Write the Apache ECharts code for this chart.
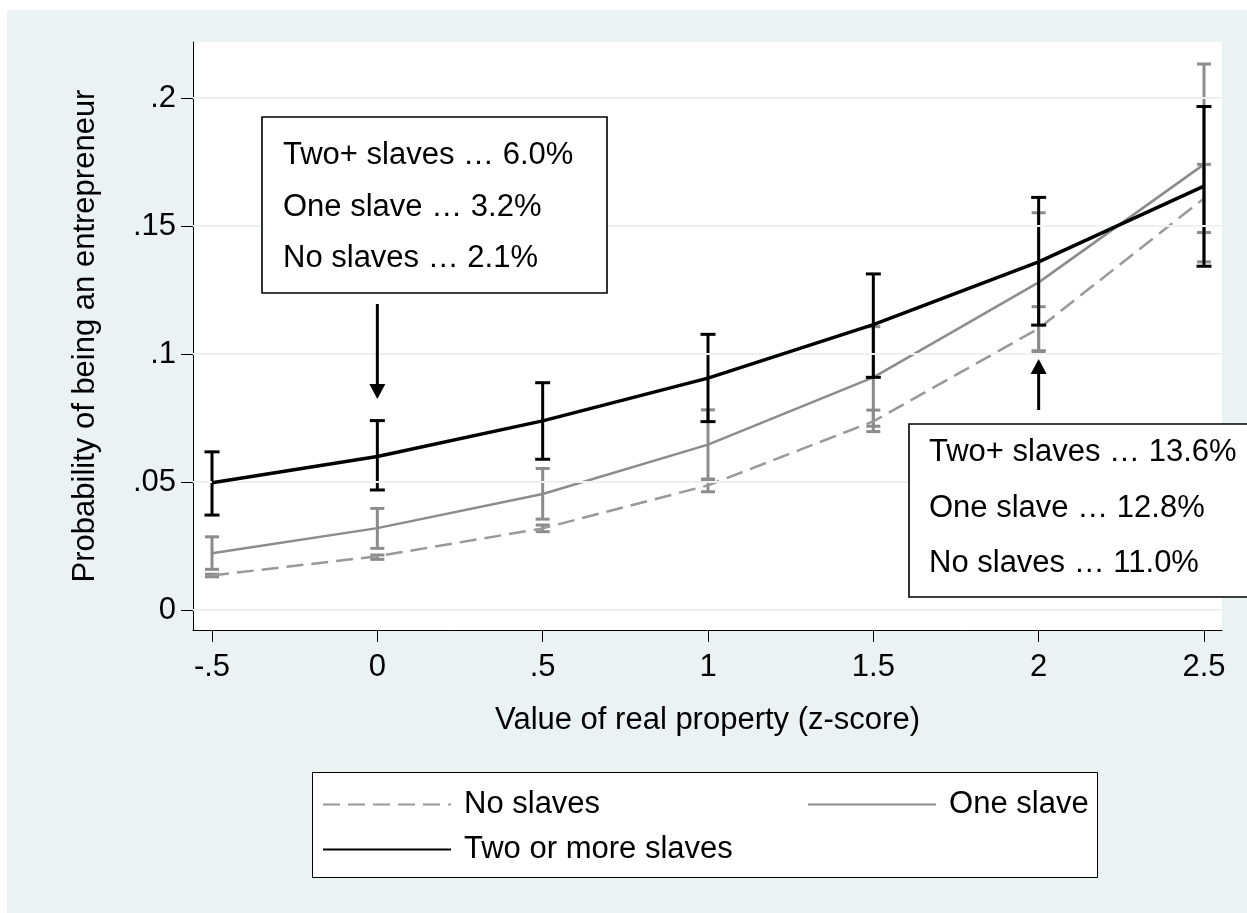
<!DOCTYPE html>
<html>
<head>
<meta charset="utf-8">
<script src="https://cdn.jsdelivr.net/npm/echarts@6.0.0/dist/echarts.min.js"></script>
<style>
  html, body { margin: 0; padding: 0; background: #ffffff; }
  #bg { position: absolute; left: 7px; top: 10px; width: 1240px; height: 903px; background: #eaf2f3; }
  #chart { position: absolute; left: 0; top: 0; width: 1247px; height: 913px; }
</style>
</head>
<body>
<div id="bg"></div>
<div id="chart"></div>
<script>
// Predicted probability of being an entrepreneur by value of real property (z-score)
const xValues = [-0.5, 0, 0.5, 1, 1.5, 2, 2.5];
const xTickLabels = ['-.5', '0', '.5', '1', '1.5', '2', '2.5'];
const yTicks = [0, 0.05, 0.1, 0.15, 0.2];
const yTickLabels = ['0', '.05', '.1', '.15', '.2'];

const seriesNames = ['No slaves', 'One slave', 'Two or more slaves'];
const shortNames = ['No slaves', 'One slave', 'Two+ slaves'];

const noSlaves     = [0.0135, 0.021, 0.0319, 0.0487, 0.0737, 0.110, 0.1608];
const noSlavesLow  = [0.0130, 0.0198, 0.0306, 0.0462, 0.0697, 0.1010, 0.1475];
const noSlavesHigh = [0.0140, 0.0215, 0.0332, 0.0512, 0.0781, 0.1185, 0.1741];

const oneSlave     = [0.0222, 0.032, 0.0453, 0.0646, 0.0909, 0.128, 0.1741];
const oneSlaveLow  = [0.0159, 0.0241, 0.0355, 0.0510, 0.0718, 0.1013, 0.1360];
const oneSlaveHigh = [0.0286, 0.0397, 0.0553, 0.0782, 0.1107, 0.1552, 0.2133];

const twoPlus      = [0.0497, 0.060, 0.0739, 0.0906, 0.1115, 0.136, 0.1656];
const twoPlusLow   = [0.0371, 0.0469, 0.0589, 0.0736, 0.0909, 0.1113, 0.1343];
const twoPlusHigh  = [0.0618, 0.0740, 0.0888, 0.1077, 0.1313, 0.1612, 0.1967];

// x positions whose values are called out in the boxes
const calloutX = [0, 2];

const FONT = '"Liberation Sans", Arial, Helvetica, sans-serif';
const GRAY_SOLID = '#8c8c8c';
const GRAY_DASH = '#999999';
const BG = '#eaf2f3';

function pairs(vals) { return xValues.map((x, i) => [x, vals[i]]); }
function triples(lo, hi) { return xValues.map((x, i) => [x, lo[i], hi[i]]); }
function pickLabel(ticks, labels, v) {
  const i = ticks.findIndex(t => Math.abs(t - v) < 1e-9);
  return i >= 0 ? labels[i] : '';
}

// capped vertical interval
function capRenderer(color, capHalf, width) {
  return function (params, api) {
    const x = api.value(0);
    const lo = api.coord([x, api.value(1)]);
    const hi = api.coord([x, api.value(2)]);
    const style = { stroke: color, lineWidth: width, fill: null };
    return {
      type: 'group',
      children: [
        { type: 'line', shape: { x1: lo[0], y1: lo[1], x2: hi[0], y2: hi[1] }, style: style },
        { type: 'line', shape: { x1: lo[0] - capHalf, y1: lo[1], x2: lo[0] + capHalf, y2: lo[1] }, style: style },
        { type: 'line', shape: { x1: hi[0] - capHalf, y1: hi[1], x2: hi[0] + capHalf, y2: hi[1] }, style: style }
      ]
    };
  };
}

const chart = echarts.init(document.getElementById('chart'), null, { renderer: 'canvas' });

const legendText = { fontSize: 31, color: '#000', fontFamily: FONT, padding: [0, 0, 0, 8] };

const option = {
  backgroundColor: 'transparent',
  animation: false,
  textStyle: { fontFamily: FONT, color: '#000' },
  grid: {
    left: 193, right: 25, top: 42, bottom: 283,
    show: true, backgroundColor: '#ffffff', borderWidth: 0
  },
  xAxis: {
    type: 'value',
    min: -0.5575, max: 2.5545,
    name: 'Value of real property (z-score)',
    nameLocation: 'middle',
    nameGap: 75,
    nameTextStyle: { fontSize: 31, color: '#000', fontFamily: FONT },
    axisLine: { show: true, onZero: false, lineStyle: { color: '#000', width: 1 } },
    axisTick: { show: true, length: 12, lineStyle: { color: '#000', width: 1 }, customValues: xValues },
    axisLabel: {
      customValues: xValues, margin: 22, fontSize: 31, color: '#000', fontFamily: FONT,
      formatter: v => pickLabel(xValues, xTickLabels, v)
    },
    splitLine: { show: false }
  },
  yAxis: {
    type: 'value',
    min: -0.0078, max: 0.2219,
    name: 'Probability of being an entrepreneur',
    nameLocation: 'middle',
    nameGap: 92,
    nameTextStyle: { fontSize: 31, color: '#000', fontFamily: FONT },
    axisLine: { show: true, onZero: false, lineStyle: { color: '#000', width: 1 } },
    axisTick: { show: true, length: 12, lineStyle: { color: '#000', width: 1 }, customValues: yTicks },
    axisLabel: {
      customValues: yTicks, margin: 17, fontSize: 31, color: '#000', fontFamily: FONT,
      formatter: v => pickLabel(yTicks, yTickLabels, v)
    },
    splitLine: { show: false }
  },
  legend: [
    {
      data: [seriesNames[0], seriesNames[1]],
      left: 322, top: 789, padding: 0,
      itemGap: 207, itemWidth: 128, itemHeight: 14,
      itemStyle: { opacity: 0 },
      textStyle: legendText
    },
    {
      data: [seriesNames[2]],
      left: 322, top: 834, padding: 0,
      itemWidth: 128, itemHeight: 14,
      itemStyle: { opacity: 0 },
      textStyle: legendText
    }
  ],
  series: [
    {
      name: seriesNames[0] + ' interval', type: 'custom', z: 2,
      renderItem: capRenderer(GRAY_SOLID, 7, 3),
      encode: { x: 0, y: [1, 2] },
      data: triples(noSlavesLow, noSlavesHigh)
    },
    {
      name: seriesNames[1] + ' interval', type: 'custom', z: 2,
      renderItem: capRenderer(GRAY_SOLID, 7, 3),
      encode: { x: 0, y: [1, 2] },
      data: triples(oneSlaveLow, oneSlaveHigh)
    },
    {
      name: seriesNames[0], type: 'line', z: 3, symbol: 'none',
      data: pairs(noSlaves),
      lineStyle: { color: GRAY_DASH, width: 2.5, type: [17, 8] },
      itemStyle: { color: GRAY_DASH },
      markLine: {
        silent: true, symbol: 'none', animation: false,
        label: { show: false },
        lineStyle: { color: BG, width: 2, type: 'solid' },
        data: yTicks.map(v => ({ yAxis: v }))
      }
    },
    {
      name: seriesNames[1], type: 'line', z: 3, symbol: 'none',
      data: pairs(oneSlave),
      lineStyle: { color: GRAY_SOLID, width: 2.5, type: 'solid' },
      itemStyle: { color: GRAY_SOLID }
    },
    {
      name: seriesNames[2] + ' interval', type: 'custom', z: 4,
      renderItem: capRenderer('#000', 7.5, 3),
      encode: { x: 0, y: [1, 2] },
      data: triples(twoPlusLow, twoPlusHigh)
    },
    {
      name: seriesNames[2], type: 'line', z: 5, symbol: 'none',
      data: pairs(twoPlus),
      lineStyle: { color: '#000', width: 3.5, type: 'solid' },
      itemStyle: { color: '#000' }
    }
  ]
};

chart.setOption(option);

// Callout boxes with arrows pointing at the highlighted x positions
function calloutLines(idx) {
  const vals = [twoPlus[idx], oneSlave[idx], noSlaves[idx]];
  const names = [shortNames[2], shortNames[1], shortNames[0]];
  return names.map((n, k) => n + ' \u2026 ' + (vals[k] * 100).toFixed(1) + '%');
}

const idxA = xValues.indexOf(calloutX[0]);
const idxB = xValues.indexOf(calloutX[1]);
const ax = chart.convertToPixel({ xAxisIndex: 0 }, calloutX[0]);
const bx = chart.convertToPixel({ xAxisIndex: 0 }, calloutX[1]);

const textStyle = { fill: '#000', fontSize: 31, fontFamily: FONT, verticalAlign: 'middle', align: 'left' };
const linesA = calloutLines(idxA);
const linesB = calloutLines(idxB);
const rowsA = [155, 207, 258];
const rowsB = [452, 508, 563];

const graphics = [
  // legend frame
  { type: 'rect', z: 0, silent: true, shape: { x: 312.5, y: 772.5, width: 785, height: 105 },
    style: { fill: '#ffffff', stroke: '#000', lineWidth: 1 } },
  // first callout
  { type: 'rect', z: 100, silent: true, shape: { x: 262, y: 117, width: 345, height: 176 },
    style: { fill: '#ffffff', stroke: '#000', lineWidth: 1.6 } },
  ...linesA.map((t, k) => ({ type: 'text', z: 101, silent: true, x: 283, y: rowsA[k], style: Object.assign({ text: t }, textStyle) })),
  { type: 'line', z: 100, silent: true, shape: { x1: ax, y1: 304, x2: ax, y2: 388 }, style: { stroke: '#000', lineWidth: 3 } },
  { type: 'polygon', z: 100, silent: true, shape: { points: [[ax - 8, 384], [ax + 8, 384], [ax, 399]] }, style: { fill: '#000' } },
  // second callout
  { type: 'rect', z: 100, silent: true, shape: { x: 909, y: 424, width: 400, height: 173 },
    style: { fill: '#ffffff', stroke: '#000', lineWidth: 1.6 } },
  ...linesB.map((t, k) => ({ type: 'text', z: 101, silent: true, x: 929, y: rowsB[k], style: Object.assign({ text: t }, textStyle) })),
  { type: 'line', z: 100, silent: true, shape: { x1: bx, y1: 410, x2: bx, y2: 370 }, style: { stroke: '#000', lineWidth: 3 } },
  { type: 'polygon', z: 100, silent: true, shape: { points: [[bx - 8, 374], [bx + 8, 374], [bx, 359]] }, style: { fill: '#000' } }
];

chart.setOption({ graphic: graphics });
</script>
</body>
</html>
